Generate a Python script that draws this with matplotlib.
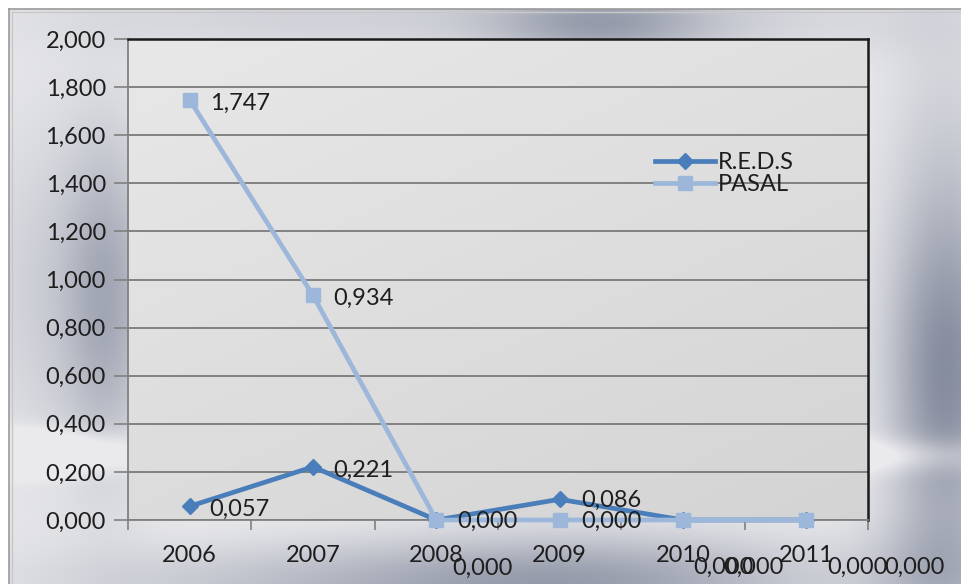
import numpy as np
import matplotlib
matplotlib.use('Agg')
import matplotlib.pyplot as plt
from matplotlib.ticker import FixedLocator, FuncFormatter

W, H, DPI = 962, 584, 100

years = ['2006', '2007', '2008', '2009', '2010', '2011']
reds = [0.057, 0.221, 0.000, 0.086, 0.000, 0.000]
pasal = [1.747, 0.934, 0.000, 0.000, 0.000, 0.000]
y_ticks = [0.0, 0.2, 0.4, 0.6, 0.8, 1.0, 1.2, 1.4, 1.6, 1.8, 2.0]

# where each data label sits relative to its point, in pixels
reds_label_offsets = [(20, -3), (20, -3), (21, -1), (22, -1), (10, -47), (21, -47)]
pasal_label_offsets = [(20, -3), (20, -3), (16, -48), (22, -1), (40, -47), (78, -47)]

REDS_COLOR = '#4a7ebb'
PASAL_COLOR = '#9db7db'
TEXT_COLOR = '#1e1e1e'
FONT = 'Lato'
FS = 17

plt.rcParams['font.family'] = [FONT, 'DejaVu Sans']


def fmt(v):
    return f'{v:.3f}'.replace('.', ',')


def metal_background():
    yy, xx = np.mgrid[0:H, 0:W].astype(float)
    shade = np.zeros((H, W))
    blobs = [  # x, y, sigma x, sigma y, strength
        (600, 22, 80, 28, 0.60),
        (330, 18, 200, 25, 0.22),
        (800, 20, 120, 25, 0.15),
        (108, 300, 30, 115, 0.45),
        (55, 290, 60, 130, 0.25),
        (945, 385, 40, 120, 0.65),
        (945, 250, 45, 200, 0.25),
        (590, 582, 170, 35, 0.60),
        (300, 585, 200, 30, 0.30),
        (940, 575, 55, 40, 0.30),
        (35, 452, 70, 14, -0.6),
        (915, 455, 60, 12, -0.35),
    ]
    for bx, by, sx, sy, s in blobs:
        shade += s * np.exp(-((xx - bx) / sx) ** 2 / 2 - ((yy - by) / sy) ** 2 / 2)
    shade = np.clip(shade, 0, 1)[..., None]
    light = np.array([0.92, 0.92, 0.93])
    dark = np.array([0.46, 0.49, 0.57])
    return light * (1 - shade) + dark * shade


fig = plt.figure(figsize=(W / DPI, H / DPI), dpi=DPI, facecolor='white')

# chart area
bg = fig.add_axes([0, 0, 1, 1], zorder=-1)
bg.set_xlim(0, W)
bg.set_ylim(H, 0)
bg.axis('off')
bg.imshow(metal_background()[9:, 9:], extent=(9, W, H, 9), aspect='auto', interpolation='bilinear')
bg.plot([9, 9], [9, H], color='#9a9a9a', lw=1.2)
bg.plot([9, W], [9, 9], color='#9a9a9a', lw=1.2)
bg.plot([12, 12], [12, H], color='#c8c8c8', lw=1)
bg.plot([12, W], [12, 12], color='#c8c8c8', lw=1)

# plot area
left, top, right, bottom = 128, 39, 868, 520
ax = fig.add_axes([left / W, (H - bottom) / H, (right - left) / W, (bottom - top) / H])
ax.set_xlim(-0.5, 5.5)
ax.set_ylim(0, 2)

gx, gy = np.meshgrid(np.linspace(0, 1, 200), np.linspace(1, 0, 200))
g = 0.91 - 0.08 * (0.6 * (1 - gy) + 0.4 * gx)
ax.imshow(np.dstack([g, g, g]), extent=(0, 1, 0, 1), transform=ax.transAxes,
          aspect='auto', zorder=0)

ax.yaxis.set_major_locator(FixedLocator(y_ticks))
ax.yaxis.set_major_formatter(FuncFormatter(lambda v, _: fmt(v)))
ax.yaxis.grid(True, color='#7a7a7a', lw=1.3, zorder=1)
ax.set_axisbelow(True)

x = np.arange(len(years))
ax.set_xticks(x)
ax.set_xticklabels(years)
ax.set_xticks(np.arange(-0.5, len(years)), minor=True)
ax.tick_params(axis='x', which='major', length=0, pad=18, labelsize=FS, labelcolor=TEXT_COLOR)
ax.tick_params(axis='x', which='minor', length=7, width=1.2, color='#808080')
ax.tick_params(axis='y', length=10, width=1.2, color='#808080', pad=6,
               labelsize=FS, labelcolor=TEXT_COLOR)

for side in ['left', 'bottom']:
    ax.spines[side].set_color('#808080')
    ax.spines[side].set_linewidth(1.3)
for side in ['top', 'right']:
    ax.spines[side].set_color('#1a1a1a')
    ax.spines[side].set_linewidth(1.8)

ax.plot(x, reds, color=REDS_COLOR, lw=3.4, marker='D', ms=8.5,
        mec=REDS_COLOR, mfc=REDS_COLOR, label='R.E.D.S', zorder=3, clip_on=False)
ax.plot(x, pasal, color=PASAL_COLOR, lw=3.4, marker='s', ms=10,
        mec=PASAL_COLOR, mfc=PASAL_COLOR, label='PASAL', zorder=4, clip_on=False)

for vals, offsets in [(reds, reds_label_offsets), (pasal, pasal_label_offsets)]:
    for xi, v, (dx, dy) in zip(x, vals, offsets):
        ax.annotate(fmt(v), (xi, v), xytext=(dx, dy), textcoords='offset pixels',
                    ha='left', va='center', fontsize=FS, color=TEXT_COLOR,
                    annotation_clip=False, zorder=6)

ax.legend(loc='center left', bbox_to_anchor=(0.712, 0.720), frameon=False,
          fontsize=FS, handlelength=2.55, handletextpad=0.1, labelspacing=0.05,
          borderpad=0, borderaxespad=0, labelcolor=TEXT_COLOR)

fig.savefig('out.png', dpi=DPI)
